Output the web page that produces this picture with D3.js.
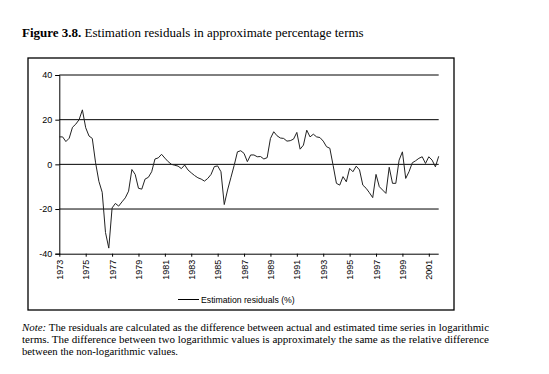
<!DOCTYPE html>
<html><head><meta charset="utf-8">
<script src="https://cdnjs.cloudflare.com/ajax/libs/d3/7.8.5/d3.min.js"></script>
<style>body{margin:0;background:#fff}svg{display:block}</style>
</head><body>
<svg id="c" width="549" height="374"></svg>
<script>
const startYear = 1973;
const tickYears = [1973,1975,1977,1979,1981,1983,1985,1987,1989,1991,1993,1995,1997,1999,2001];
const yTicks = [-40,-20,0,20,40];
const seriesName = "Estimation residuals (%)";
// quarterly residuals 1973Q1 - 2001Q4
const residuals = [
12.3,12.3,10.2,11.7,16.6,18.0,20.0,24.4,16.4,12.7,11.6,0.7,-7.6,-12.5,-30.5,-37.5,
-19.5,-17.5,-18.7,-16.8,-15.0,-12.0,-2.3,-4.5,-10.7,-11.1,-6.6,-5.8,-3.3,2.4,2.9,4.5,
2.8,1.2,0.0,-0.4,-0.8,-1.9,-0.3,-2.5,-3.8,-5.0,-6.0,-6.6,-7.5,-6.3,-4.5,-1.0,
-0.7,-3.3,-18.0,-11.5,-6.0,-0.5,5.6,6.1,4.9,1.2,4.2,4.2,3.4,3.5,2.4,3.0,
11.6,14.6,12.8,11.8,11.6,10.4,10.6,11.3,14.3,6.8,8.6,15.3,12.3,13.5,12.3,12.0,
10.4,7.9,7.2,-0.5,-8.5,-9.3,-5.5,-7.8,-1.8,-3.3,-0.8,-2.5,-9.3,-10.7,-12.7,-14.9,
-4.5,-10.0,-11.5,-13.0,-1.3,-8.5,-8.5,1.9,5.6,-6.3,-3.3,0.7,1.6,2.7,3.4,0.4,
3.4,1.9,-1.1,3.6];

const svg = d3.select("#c");

// Title
const title = svg.append("text").attr("x",22).attr("y",37)
  .style("font-family","'Liberation Serif','Times New Roman',serif").style("font-size","13px").attr("fill","#000");
title.append("tspan").attr("font-weight","bold").text("Figure 3.8.");
title.append("tspan").text(" Estimation residuals in approximate percentage terms");

// Frame
svg.append("rect").attr("x",28).attr("y",58).attr("width",426).attr("height",252)
  .attr("fill","none").attr("stroke","#000").attr("stroke-width",1.3);

const x0 = 59.3, x1 = 438.7, yTop = 75, yBot = 253.7;
const x = d3.scaleLinear().domain([startYear, startYear + (residuals.length-1)/4]).range([x0,x1]);
const y = d3.scaleLinear().domain([-40,40]).range([yBot,yTop]);

// gridlines
svg.append("g").selectAll("line").data(yTicks.filter(v=>v>-40)).join("line")
  .attr("x1",x0).attr("x2",x1).attr("y1",d=>y(d)).attr("y2",d=>y(d))
  .attr("stroke","#000").attr("stroke-width",1);

// y axis
const yAxis = svg.append("g").attr("transform",`translate(${x0},0)`)
  .call(d3.axisLeft(y).tickValues(yTicks).tickFormat(d=>String(d)).tickSize(4).tickPadding(3));
// x axis
const xAxis = svg.append("g").attr("transform",`translate(0,${yBot})`)
  .call(d3.axisBottom(x).tickValues(tickYears).tickFormat(d=>String(d)).tickSize(3));
[yAxis,xAxis].forEach(g=>{
  g.select(".domain").attr("stroke","#000").attr("stroke-width",1);
  g.selectAll(".tick line").attr("stroke","#000");
  g.selectAll("text").style("font-family","'Liberation Sans',Arial,sans-serif").style("font-size","9px").attr("fill","#000");
});
xAxis.select(".domain").attr("d",`M${x0},0.5H${x1}`);
xAxis.selectAll(".tick text").attr("transform","rotate(-90)").attr("text-anchor","end")
  .attr("x",-6).attr("y",0).attr("dy","0.35em");

// line
const line = d3.line().x((d,i)=>x(startYear+i/4)).y(d=>y(d));
svg.append("path").datum(residuals).attr("d",line).attr("fill","none")
  .attr("stroke","#222").attr("stroke-width",1).attr("stroke-linejoin","round");

// legend
svg.append("line").attr("x1",178).attr("x2",199).attr("y1",299.5).attr("y2",299.5).attr("stroke","#000").attr("stroke-width",1);
svg.append("text").attr("x",201).attr("y",302.5).text(seriesName)
  .style("font-family","'Liberation Sans',Arial,sans-serif").style("font-size","8.7px").attr("fill","#000");

// note
const noteFont = "'Liberation Serif','Times New Roman',serif";
const n1 = svg.append("text").attr("x",22).attr("y",331).attr("textLength",467).attr("lengthAdjust","spacingAndGlyphs")
  .style("font-family",noteFont).style("font-size","10.5px");
n1.append("tspan").attr("font-style","italic").text("Note:");
n1.append("tspan").text(" The residuals are calculated as the difference between actual and estimated time series in logarithmic");
svg.append("text").attr("x",22).attr("y",343).attr("textLength",467).attr("lengthAdjust","spacingAndGlyphs")
  .style("font-family",noteFont).style("font-size","10.5px")
  .text("terms. The difference between two logarithmic values is approximately the same as the relative difference");
svg.append("text").attr("x",22).attr("y",355).attr("textLength",156).attr("lengthAdjust","spacingAndGlyphs")
  .style("font-family",noteFont).style("font-size","10.5px")
  .text("between the non-logarithmic values.");
</script>
</body></html>
